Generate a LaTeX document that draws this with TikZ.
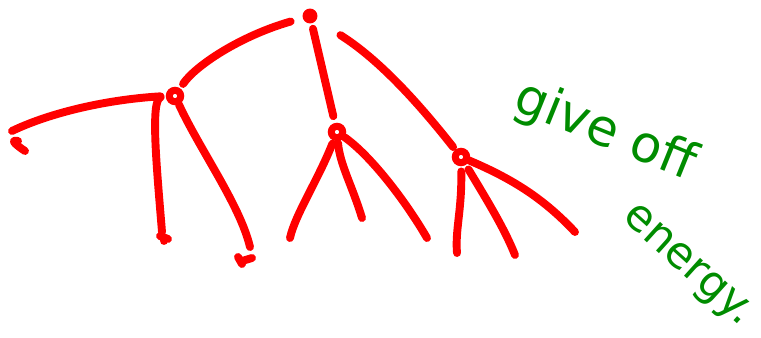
\documentclass[tikz,border=0pt]{standalone}
\usepackage{fontspec}
\setsansfont{DejaVu Sans}
\usetikzlibrary{positioning}

\begin{document}
\begin{tikzpicture}[x=0.02cm, y=-0.02cm,
  stroke/.style={draw=red, line width=4.5pt, line cap=round, line join=round},
  rootdot/.style={circle, fill=red, inner sep=0pt, minimum size=8.5pt},
  knot/.style={circle, draw=red, line width=4pt, inner sep=0pt, minimum size=6.5pt},
  note/.style={text=green!55!black, inner sep=0pt,
               font=\sffamily\fontsize{29}{31}\selectfont}
]
  \useasboundingbox (0,0) rectangle (761,338);

  % ========== NODES ==========
  \node[rootdot] (root) at (310,16) {};
  \node[knot] (lnode) at (175,96) {};
  \node[knot] (mnode) at (337,132) {};
  \node[knot] (rnode) at (461,157) {};

  % leaves
  \coordinate (la) at (12,131);
  \coordinate (lb) at (162,232);
  \coordinate (lc) at (250,247);
  \coordinate (ma) at (290,238);
  \coordinate (mb) at (362,218);
  \coordinate (mc) at (427,238);
  \coordinate (ra) at (457,253);
  \coordinate (rb) at (515,255);
  \coordinate (rc) at (575,232);

  % ======== ROOT -> INNER ========
  \draw[stroke, shorten <=7pt, shorten >=3pt]
    (root) .. controls (240,36) and (195,66) .. (lnode);
  \draw[stroke, shorten <=3pt, shorten >=4pt] (root) -- (mnode);
  \draw[stroke, shorten <=16pt, shorten >=2pt]
    (root) .. controls (380,60) and (420,105) .. (rnode);

  % ======== LEFT ========
  \draw[stroke, shorten <=3pt] (lnode.west) .. controls (100,100) and (45,115) .. (la);
  \draw[stroke, shorten <=3pt] (lnode.west) .. controls (150,100) and (157,170) .. (lb);
  \draw[stroke] (lnode) .. controls (200,150) and (240,205) .. (lc);
  \draw[stroke] (la) ++(6,10) .. controls ++(-10,-2) and ++(-6,-4) .. ++(7,10);
  \draw[stroke] (lb) ++(-2,4) -- ++(8,3) (lb) ++(2,7) -- ++(0,2);
  \draw[stroke] (lc) ++(-12,10) -- ++(4,7) (lc) ++(-8,14) -- ++(10,-3);

  % ======== MIDDLE ========
  \draw[stroke, shorten <=2pt] (mnode) .. controls (318,180) and (295,215) .. (ma);
  \draw[stroke, shorten <=1pt] (mnode) .. controls (340,165) and (352,185) .. (mb);
  \draw[stroke] (mnode) .. controls (370,155) and (405,200) .. (mc);

  % ======== RIGHT ========
  \draw[stroke, shorten <=3pt] (rnode) .. controls (462,210) and (455,230) .. (ra);
  \draw[stroke, shorten <=3pt] (rnode) .. controls (490,205) and (505,230) .. (rb);
  \draw[stroke] (rnode) .. controls (515,180) and (545,200) .. (rc);

  % ========== TEXT ==========
  \node[note, rotate=-22] (give) at (605,132) {give off};
  \node[note, rotate=-42, font=\sffamily\fontsize{25}{27}\selectfont]
    (energy) at (686,267) {energy.};

\end{tikzpicture}
\end{document}
